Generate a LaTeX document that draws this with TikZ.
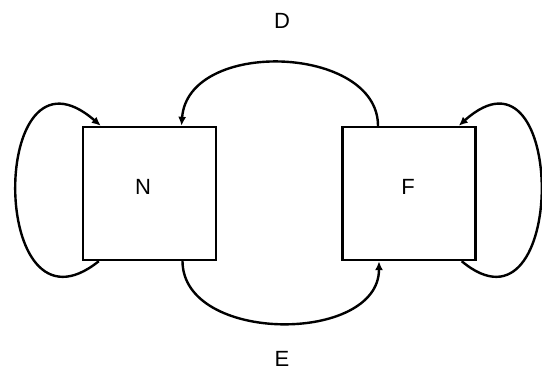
\documentclass[tikz,border=0pt]{standalone}
\usepackage{fontspec}
\setmainfont{Liberation Sans}
\usetikzlibrary{arrows.meta}
\begin{document}
\begin{tikzpicture}[x=1pt,y=-1pt,
  box/.style={draw,line width=2.4pt,minimum width=133pt,minimum height=133pt,inner sep=0pt},
  lbl/.style={font=\fontsize{22}{26}\selectfont,inner sep=0pt},
  link/.style={line width=2.4pt,-{Latex[length=9pt,width=8pt]}}]
  \useasboundingbox (0,0) rectangle (542,375);
  % the two boxes
  \node[box] (N) at (149.5,193.5) {};
  \node[box] (F) at (409,193.5) {};
  \node[lbl] (Nt) at (143,187) {N};
  \node[lbl] (Ft) at (408,187) {F};
  % arc labels
  \node[lbl] (D) at (282,21) {D};
  \node[lbl] (E) at (282,359) {E};
  % attachment points on the box borders
  \coordinate (Fd) at ([xshift=-31pt]F.north);
  \coordinate (Nd) at ([xshift=32pt]N.north);
  \coordinate (Ne) at ([xshift=33pt]N.south);
  \coordinate (Fe) at ([xshift=-30pt]F.south);
  \coordinate (Nls) at ([xshift=17pt]N.south west);
  \coordinate (Nle) at ([xshift=19pt]N.north west);
  \coordinate (Fls) at ([xshift=-15pt]F.south east);
  \coordinate (Fle) at ([xshift=-18pt]F.north east);
  % D: from F over the top to N
  \draw[link] (Fd) .. controls (378,45) and (188,38) .. (Nd);
  % E: from N under the bottom to F
  \draw[link] (Ne) .. controls (183,344) and (379,344) .. (Fe);
  % self loops
  \draw[link] (Nls) .. controls (-12,350) and (-12,28) .. (Nle);
  \draw[link] (Fls) .. controls (568,350) and (568,28) .. (Fle);
\end{tikzpicture}
\end{document}
